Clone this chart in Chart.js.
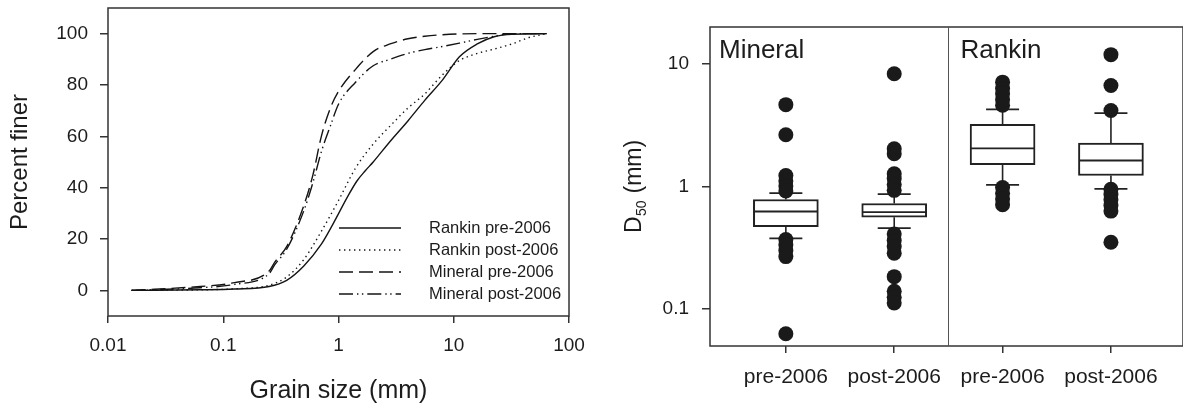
<!DOCTYPE html>
<html>
<head>
<meta charset="utf-8">
<script src="https://cdn.jsdelivr.net/npm/chart.js@4.4.1/dist/chart.umd.min.js"></script>
<style>
  html, body { margin: 0; padding: 0; background: #fff; overflow: hidden; }
  #wrap { position: relative; width: 1183px; height: 406px; }
  canvas { position: absolute; top: 0; }
  #grain { left: 0; }
  #d50 { left: 600px; }
</style>
</head>
<body>
<div id="wrap">
  <canvas id="grain" width="600" height="406"></canvas>
  <canvas id="d50" width="583" height="406"></canvas>
</div>
<script>
// ---- Grain-size distributions: percent finer vs sieve size (mm) ----
const rankinPreSize   = [0.016, 0.063, 0.125, 0.25, 0.355, 0.5, 0.71, 0.9, 1.2, 1.44, 1.7, 2, 2.8, 4, 5.6, 8, 11.2, 16, 22.4, 32, 64];
const rankinPrePct    = [0, 0.2, 0.5, 1.5, 3.9, 9.5, 18, 26, 36.5, 42.5, 46.5, 50, 58, 66, 74, 82, 91, 96, 98.8, 99.8, 100];

const rankinPostSize  = [0.016, 0.063, 0.125, 0.25, 0.355, 0.5, 0.71, 1, 1.4, 2, 2.8, 4, 5.6, 8, 11.2, 16, 22.4, 32, 45, 64];
const rankinPostPct   = [0, 0.2, 0.6, 2, 5.2, 12, 23, 35, 47.5, 57, 64, 71, 76.5, 84, 89.5, 92.3, 94, 96, 98.5, 100];

const mineralPreSize  = [0.016, 0.063, 0.125, 0.25, 0.28, 0.355, 0.5, 0.6, 0.71, 0.85, 1, 1.4, 2, 2.8, 4, 5.6, 8, 16, 64];
const mineralPrePct   = [0, 1.5, 3, 7.5, 11, 17, 33, 45, 60, 71, 77.5, 86, 93, 96, 98, 99, 99.6, 100, 100];

const mineralPostSize = [0.016, 0.063, 0.125, 0.25, 0.28, 0.355, 0.5, 0.6, 0.71, 0.85, 1, 1.4, 2, 2.8, 4, 5.6, 8, 11.2, 16, 22.4, 32, 64];
const mineralPostPct  = [0, 1, 2.3, 6.5, 10, 16, 31, 42, 54, 64, 72.5, 81, 87.5, 90, 92.3, 93.8, 95, 96.3, 97.8, 99, 100, 100];

const sizeTicks       = [0.01, 0.1, 1, 10, 100];
const sizeTickLabels  = ['0.01', '0.1', '1', '10', '100'];
const percentTicks    = [0, 20, 40, 60, 80, 100];

// ---- D50 box plots (mm) ----
const siteNames     = ['Mineral', 'Rankin'];
const periodLabels  = ['pre-2006', 'post-2006', 'pre-2006', 'post-2006'];
const boxQ1         = [0.471, 0.562, 1.51, 1.23];
const boxMedian     = [0.625, 0.617, 2.05, 1.63];
const boxQ3         = [0.783, 0.727, 3.21, 2.26];
const whiskerLow    = [0.378, 0.457, 1.03, 0.958];
const whiskerHigh   = [0.882, 0.866, 4.25, 3.97];
const outliersMineralPre  = [4.65, 2.64, 1.23, 1.11, 1.01, 0.92, 0.37, 0.335, 0.30, 0.268, 0.063];
const outliersMineralPost = [8.32, 2.03, 1.85, 1.27, 1.16, 1.04, 0.93, 0.41, 0.362, 0.324, 0.286, 0.184, 0.14, 0.125, 0.112];
const outliersRankinPre   = [7.1, 6.3, 5.7, 5.1, 4.6, 0.98, 0.88, 0.79, 0.71];
const outliersRankinPost  = [11.9, 6.67, 4.17, 0.95, 0.86, 0.78, 0.70, 0.63, 0.351];
const d50Ticks       = [0.1, 1, 10];
const d50TickLabels  = ['0.1', '1', '10'];

const FONT = '"Liberation Sans", Arial, Helvetica, sans-serif';
const INK = '#1c1c1c';
const FRAME = '#333333';
Chart.defaults.font.family = FONT;
Chart.defaults.color = INK;

const toPoints = (xs, ys) => xs.map((x, i) => ({ x, y: ys[i] }));
// keep tick labels from pushing the plot area inward
const noScalePadding = s => { s.paddingTop = 0; s.paddingBottom = 0; s.paddingLeft = 0; s.paddingRight = 0; };

// Box frame around the plotting area
const framePlugin = {
  id: 'frame',
  afterDraw(chart, args, opts) {
    const { ctx, chartArea: a } = chart;
    ctx.save();
    ctx.strokeStyle = opts.color;
    ctx.lineWidth = opts.width;
    ctx.strokeRect(a.left, a.top, a.right - a.left, a.bottom - a.top);
    ctx.restore();
  }
};

// Line-sample legend placed inside the plot, lower right
const curveLegend = {
  id: 'curveLegend',
  afterDatasetsDraw(chart, args, opts) {
    const { ctx, chartArea: a } = chart;
    ctx.save();
    ctx.font = opts.fontSize + 'px ' + FONT;
    ctx.textBaseline = 'middle';
    ctx.textAlign = 'left';
    chart.data.datasets.forEach((ds, i) => {
      const y = a.bottom - opts.firstRowFromBottom + i * opts.rowGap;
      const x0 = a.left + opts.lineStart;
      ctx.beginPath();
      ctx.setLineDash(ds.borderDash || []);
      ctx.lineWidth = ds.borderWidth;
      ctx.strokeStyle = ds.borderColor;
      ctx.moveTo(x0, y);
      ctx.lineTo(x0 + opts.lineLength, y);
      ctx.stroke();
      ctx.setLineDash([]);
      ctx.fillStyle = INK;
      ctx.fillText(ds.label, a.left + opts.textStart, y);
    });
    ctx.restore();
  }
};

const curveStyle = { borderColor: '#141414', borderWidth: 1.4, pointRadius: 0, fill: false, cubicInterpolationMode: 'monotone' };

new Chart(document.getElementById('grain'), {
  type: 'line',
  data: {
    datasets: [
      { label: 'Rankin pre-2006',   data: toPoints(rankinPreSize, rankinPrePct),     ...curveStyle, borderDash: [] },
      { label: 'Rankin post-2006',  data: toPoints(rankinPostSize, rankinPostPct),   ...curveStyle, borderDash: [1.4, 3.6] },
      { label: 'Mineral pre-2006',  data: toPoints(mineralPreSize, mineralPrePct),   ...curveStyle, borderDash: [14, 6] },
      { label: 'Mineral post-2006', data: toPoints(mineralPostSize, mineralPostPct), ...curveStyle, borderDash: [14, 4, 1.4, 3.5, 1.4, 4] }
    ]
  },
  plugins: [framePlugin, curveLegend],
  options: {
    responsive: false,
    animation: false,
    events: [],
    devicePixelRatio: 1,
    layout: { autoPadding: false, padding: { top: 8, right: 31, left: 0, bottom: 0 } },
    plugins: {
      legend: { display: false },
      tooltip: { enabled: false },
      frame: { color: FRAME, width: 1.5 },
      curveLegend: { fontSize: 16.5, firstRowFromBottom: 88, rowGap: 22, lineStart: 231, lineLength: 62, textStart: 321 }
    },
    scales: {
      x: {
        type: 'logarithmic',
        min: 0.01, max: 100,
        afterBuildTicks: s => { s.ticks = sizeTicks.map(v => ({ value: v })); },
        afterFit: s => { s.height = 90; noScalePadding(s); },
        ticks: { callback: (v, i) => sizeTickLabels[i], font: { size: 19 }, padding: 11, maxRotation: 0, autoSkip: false },
        grid: { drawOnChartArea: false, drawTicks: true, tickLength: 7, color: FRAME, lineWidth: 1.5 },
        border: { display: false },
        title: { display: true, text: 'Grain size (mm)', font: { size: 25 }, padding: { top: 0, bottom: 0 } }
      },
      y: {
        type: 'linear',
        min: -10, max: 110,
        afterBuildTicks: s => { s.ticks = percentTicks.map(v => ({ value: v })); },
        afterFit: s => { s.width = 108; noScalePadding(s); },
        ticks: { callback: v => String(v), font: { size: 19 }, padding: 12 },
        grid: { drawOnChartArea: false, drawTicks: true, tickLength: 8, color: FRAME, lineWidth: 1.5 },
        border: { display: false },
        title: { display: true, text: 'Percent finer', font: { size: 24 }, padding: { top: 6, bottom: 0 } }
      }
    }
  }
});

// ---- D50 panel ----
const panelDecor = {
  id: 'panelDecor',
  afterDraw(chart, args, opts) {
    const { ctx, chartArea: a, scales: { x } } = chart;
    ctx.save();
    // vertical divider between the two sites
    const xd = Math.round(x.getPixelForValue(2.5)) + 0.5;
    ctx.strokeStyle = '#555';
    ctx.lineWidth = 1;
    ctx.beginPath();
    ctx.moveTo(xd, a.top);
    ctx.lineTo(xd, a.bottom);
    ctx.stroke();

    // site names
    ctx.fillStyle = INK;
    ctx.font = opts.siteFont + 'px ' + FONT;
    ctx.textBaseline = 'middle';
    ctx.textAlign = 'left';
    ctx.fillText(siteNames[0], a.left + 9, a.top + 23.5);
    ctx.fillText(siteNames[1], xd + 12, a.top + 23.5);

    // rotated y-axis title with subscript
    const cy = (a.top + a.bottom) / 2;
    const bx = a.left - 69;
    ctx.translate(bx, cy);
    ctx.rotate(-Math.PI / 2);
    ctx.textBaseline = 'alphabetic';
    const big = opts.titleFont + 'px ' + FONT;
    const small = opts.subFont + 'px ' + FONT;
    ctx.font = big; const wD = ctx.measureText('D').width;
    ctx.font = small; const wS = ctx.measureText('50').width;
    ctx.font = big; const wR = ctx.measureText(' (mm)').width;
    let tx = -(wD + wS + 1 + wR) / 2;
    ctx.font = big; ctx.fillText('D', tx, 0); tx += wD;
    ctx.font = small; ctx.fillText('50', tx + 0.5, 5); tx += wS + 1;
    ctx.font = big; ctx.fillText(' (mm)', tx, 0);
    ctx.restore();
  }
};

const stemPoints = [];
boxQ1.forEach((q, i) => {
  stemPoints.push({ x: i + 1, y: boxQ3[i] }, { x: i + 1, y: whiskerHigh[i] }, { x: i + 1, y: null },
                  { x: i + 1, y: q },        { x: i + 1, y: whiskerLow[i] },  { x: i + 1, y: null });
});
const capPoints = [];
whiskerLow.forEach((w, i) => { capPoints.push({ x: i + 1, y: w }, { x: i + 1, y: whiskerHigh[i] }); });
const outlierPoints = [];
[outliersMineralPre, outliersMineralPost, outliersRankinPre, outliersRankinPost].forEach((list, i) => {
  list.forEach(v => outlierPoints.push({ x: i + 1, y: v }));
});

new Chart(document.getElementById('d50'), {
  type: 'scatter',
  data: {
    datasets: [
      { type: 'line', data: stemPoints, borderColor: '#222', borderWidth: 1.6, pointRadius: 0, spanGaps: false, order: 4 },
      { type: 'bar', data: boxQ1.map((q, i) => ({ x: i + 1, y: [q, boxQ3[i]] })),
        backgroundColor: '#ffffff', borderColor: '#222', borderWidth: 2, borderSkipped: false, barThickness: 65, order: 3 },
      { type: 'scatter', data: boxMedian.map((m, i) => ({ x: i + 1, y: m })),
        pointStyle: 'line', pointRadius: 32, borderColor: '#222', borderWidth: 1.8, order: 2 },
      { type: 'scatter', data: capPoints,
        pointStyle: 'line', pointRadius: 16.5, borderColor: '#222', borderWidth: 1.8, order: 2 },
      { type: 'scatter', data: outlierPoints,
        pointStyle: 'circle', pointRadius: 7.5, backgroundColor: '#1a1a1a', borderWidth: 0, order: 1 }
    ]
  },
  plugins: [framePlugin, panelDecor],
  options: {
    responsive: false,
    animation: false,
    events: [],
    devicePixelRatio: 1,
    layout: { autoPadding: false, padding: { top: 27, right: 0, left: 0, bottom: 0 } },
    plugins: {
      legend: { display: false },
      tooltip: { enabled: false },
      frame: { color: FRAME, width: 1.5 },
      panelDecor: { siteFont: 26, titleFont: 23, subFont: 14 }
    },
    scales: {
      x: {
        type: 'linear',
        min: 0.3, max: 4.665,
        offset: false,
        afterBuildTicks: s => { s.ticks = periodLabels.map((_, i) => ({ value: i + 1 })); },
        afterFit: s => { s.height = 60; noScalePadding(s); },
        ticks: { callback: (v, i) => periodLabels[i], font: { size: 21 }, padding: 12, maxRotation: 0, autoSkip: false },
        grid: { drawOnChartArea: false, drawTicks: true, tickLength: 7, color: FRAME, lineWidth: 1.5, offset: false },
        border: { display: false }
      },
      y: {
        type: 'logarithmic',
        min: 0.05, max: 20,
        afterBuildTicks: s => { s.ticks = d50Ticks.map(v => ({ value: v })); },
        afterFit: s => { s.width = 110; noScalePadding(s); },
        ticks: { callback: (v, i) => d50TickLabels[i], font: { size: 19 }, padding: 13 },
        grid: { drawOnChartArea: false, drawTicks: true, tickLength: 8, color: FRAME, lineWidth: 1.5 },
        border: { display: false }
      }
    }
  }
});
</script>
</body>
</html>
